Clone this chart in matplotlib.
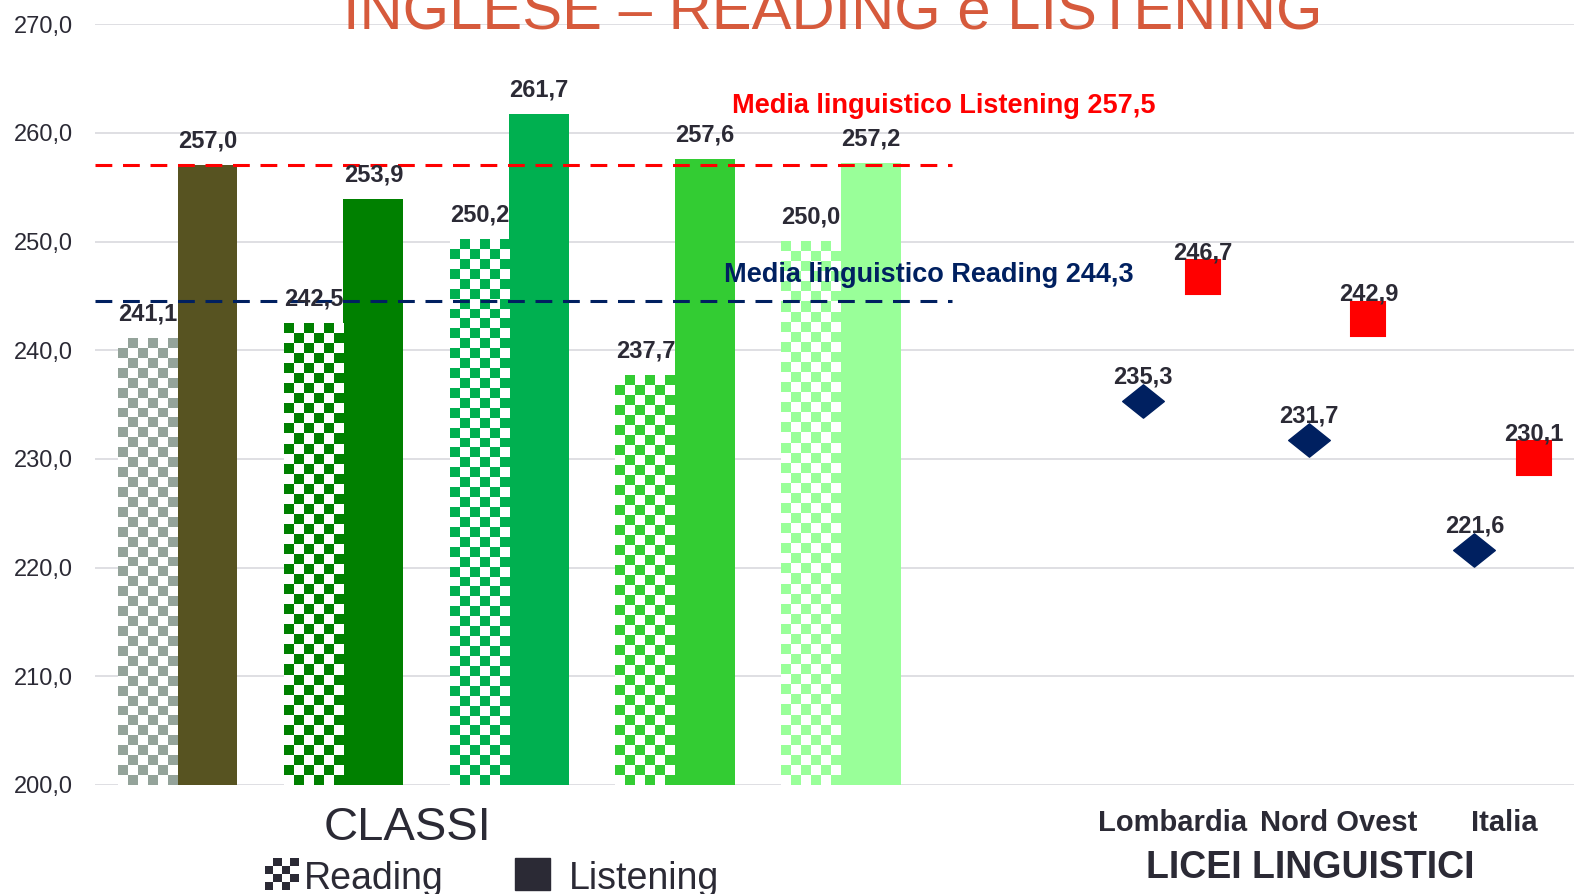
import numpy as np
import matplotlib.pyplot as plt
from matplotlib.colors import ListedColormap
from matplotlib.path import Path
from matplotlib.patches import Rectangle
from matplotlib.transforms import blended_transform_factory

plt.rcParams['font.family'] = ['Liberation Sans', 'DejaVu Sans']

# data
reading = [241.1, 242.5, 250.2, 237.7, 250.0]
listening = [257.0, 253.9, 261.7, 257.6, 257.2]
reading_colors = ['#94A39A', '#008000', '#00B050', '#33CC33', '#99FF99']
listening_colors = ['#575321', '#008000', '#00B050', '#33CC33', '#99FF99']

regions = ['Lombardia', 'Nord Ovest', 'Italia']
region_reading = [235.3, 231.7, 221.6]
region_listening = [246.7, 242.9, 230.1]

# averages as written, and where the dashed lines sit in the picture
media_reading = 244.3
media_listening = 257.5
line_reading = 244.5
line_listening = 257.0

yticks = [200, 210, 220, 230, 240, 250, 260, 270]

TXT = '#2B2A35'
NAVY = '#002060'
RED = '#FF0000'


def fmt(v):
    return f'{v:.1f}'.replace('.', ',')


W, H = 1574, 894
fig = plt.figure(figsize=(W / 100, H / 100), dpi=100)
ax = fig.add_axes([95.4 / W, 1 - 785 / H, (W - 95.4) / W, (785 - 24.1) / H])

x = np.arange(len(reading))
bw = 0.36
base = 200

# listening bars (solid)
lbars = ax.bar(x + bw / 2, np.array(listening) - base, bw, bottom=base,
               color=listening_colors, zorder=2)
# reading bars (checkered)
rbars = ax.bar(x - bw / 2, np.array(reading) - base, bw, bottom=base,
               color='white', zorder=2)
for p, c in zip(rbars, reading_colors):
    x0, w, h = p.get_x(), p.get_width(), p.get_height()
    ny, nx = int(round(h / 0.92)), 6
    board = (np.add.outer(np.arange(ny), np.arange(nx)) % 2)
    ax.imshow(board, cmap=ListedColormap(['white', c]), aspect='auto',
              interpolation='nearest', origin='lower',
              extent=[x0, x0 + w, base, base + h], zorder=3)

for p, v in list(zip(rbars, reading)) + list(zip(lbars, listening)):
    ax.annotate(fmt(v), (p.get_x() + p.get_width() / 2, v), xytext=(0, 17.5),
                textcoords='offset points', ha='center', va='center',
                fontsize=17, fontweight='bold', color=TXT, zorder=6)

# region markers
rx = np.arange(len(regions)) + 6
diamond = Path([(-1, 0), (0, 0.8), (1, 0), (0, -0.8), (-1, 0)],
               [Path.MOVETO, Path.LINETO, Path.LINETO, Path.LINETO, Path.CLOSEPOLY])
ax.plot(rx - 0.18, region_reading, ls='none', marker=diamond, ms=30,
        color=NAVY, mec=NAVY, mew=1, zorder=4)
ax.plot(rx + 0.18, region_listening, ls='none', marker='s', ms=24,
        color=RED, mec=RED, mew=1.5, zorder=4)
for xi, v in zip(rx - 0.18, region_reading):
    ax.annotate(fmt(v), (xi, v), xytext=(0, 17.5), textcoords='offset points',
                ha='center', va='center', fontsize=17, fontweight='bold',
                color=TXT, zorder=6)
for xi, v in zip(rx + 0.18, region_listening):
    ax.annotate(fmt(v), (xi, v), xytext=(0, 17.5), textcoords='offset points',
                ha='center', va='center', fontsize=17, fontweight='bold',
                color=TXT, zorder=6)

# media lines
ax.axhline(line_listening, xmin=0, xmax=0.579, color=RED, lw=2.2,
           ls=(0, (5.5, 3.5)), zorder=5)
ax.axhline(line_reading, xmin=0, xmax=0.579, color=NAVY, lw=2.2,
           ls=(0, (5.5, 3.5)), zorder=5)
ax.text(4.62, media_listening + 5.0, 'Media linguistico Listening ' + fmt(media_listening),
        ha='center', va='center', fontsize=19.5, fontweight='bold', color=RED, zorder=6)
ax.text(4.53, media_reading + 2.6, 'Media linguistico Reading ' + fmt(media_reading),
        ha='center', va='center', fontsize=19.5, fontweight='bold', color=NAVY, zorder=6)

ax.set_xlim(-0.496, 8.42)
ax.set_ylim(200, 270)
ax.set_yticks(yticks)
ax.set_yticklabels([fmt(v) for v in yticks], fontsize=17, color=TXT)
ax.tick_params(axis='y', length=0, pad=16)
ax.set_xticks([])
ax.grid(axis='y', color='#D9D9DE', lw=1.2, zorder=0)
ax.set_axisbelow(True)
for s in ax.spines.values():
    s.set_visible(False)

# region labels
tr = blended_transform_factory(ax.transData, fig.transFigure)
for xi, name in zip(rx, regions):
    ax.text(xi, 1 - 831 / H, name, transform=tr, ha='center', va='baseline',
            fontsize=21, fontweight='bold', color=TXT, clip_on=False)
fig.text(1310 / W, 1 - 878 / H, 'LICEI LINGUISTICI', ha='center', va='baseline',
         fontsize=27, fontweight='bold', color=TXT)

# title
fig.text(833 / W, 1 - 29 / H, 'INGLESE – READING e LISTENING', ha='center',
         va='baseline', fontsize=43, color='#D65A3C')

# legend
fig.text(408 / W, 1 - 840 / H, 'CLASSI', ha='center', va='baseline', fontsize=34, color=TXT)
lax = fig.add_axes([265 / W, 1 - 890 / H, 34 / W, 32 / H])
lax.imshow(np.add.outer(np.arange(4), np.arange(4)) % 2,
           cmap=ListedColormap(['white', TXT]), interpolation='nearest', aspect='auto')
lax.axis('off')
fig.text(304 / W, 1 - 889 / H, 'Reading', ha='left', va='baseline', fontsize=27, color=TXT)
fig.patches.append(Rectangle((515 / W, 1 - 890 / H), 35 / W, 32 / H,
                             transform=fig.transFigure, color=TXT))
fig.text(569 / W, 1 - 889 / H, 'Listening', ha='left', va='baseline', fontsize=27, color=TXT)

fig.savefig('out.png', dpi=100)
